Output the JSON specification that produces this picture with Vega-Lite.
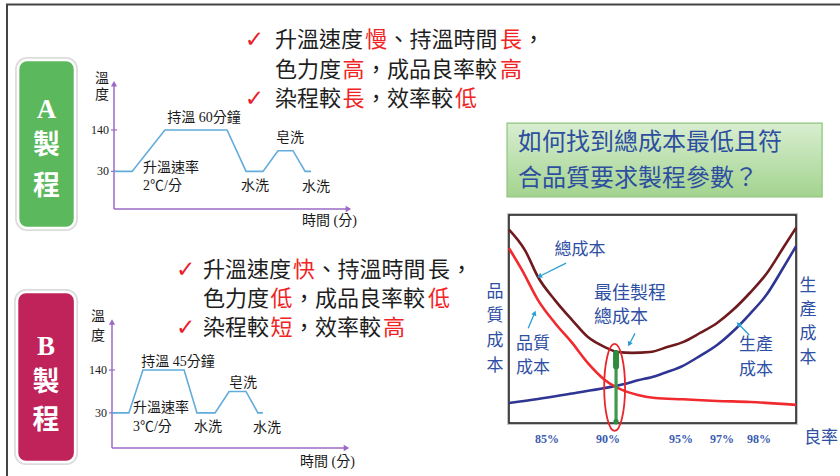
{
  "$schema": "https://vega.github.io/schema/vega-lite/v6.json",
  "width": 840,
  "height": 476,
  "padding": 0,
  "autosize": "none",
  "background": "white",
  "config": {"view": {"stroke": null}, "legend": {"disable": true}},
  "resolve": {"scale": {"x": "independent", "y": "independent", "color": "independent"}},
  "layer": [
    {
      "data": {"values": [{"sx": 0, "sx2": 1, "sy": 0, "sy2": 1}]},
      "mark": {"type": "rect", "fill": "transparent", "stroke": "#444444", "strokeWidth": 2},
      "encoding": {
        "x": {"field": "sx", "type": "quantitative", "axis": null, "scale": {"domain": [0, 1], "range": [7, 870], "nice": false, "zero": false}},
        "x2": {"field": "sx2"},
        "y": {"field": "sy", "type": "quantitative", "axis": null, "scale": {"domain": [0, 1], "range": [4.5, 500], "nice": false, "zero": false}},
        "y2": {"field": "sy2"}
      }
    },
    {
      "encoding": {
        "x": {"field": "time", "type": "quantitative", "axis": null, "scale": {"domain": [0, 100], "range": [114, 352], "nice": false, "zero": false}},
        "y": {"field": "temp", "type": "quantitative", "axis": null, "scale": {"domain": [-70, 140], "range": [209, 130], "nice": false, "zero": false}}
      },
      "layer": [
        {
          "data": {"values": [{"time": -40.3, "time2": -16.4, "temp": 326, "temp2": -120.5}]},
          "mark": {"type": "rect", "fill": "#5cb85c", "stroke": "#dcdcdc", "strokeWidth": 6, "cornerRadius": 9},
          "encoding": {"x2": {"field": "time2"}, "y2": {"field": "temp2"}}
        },
        {
          "data": {"values": [{"time": -40.3, "time2": -16.4, "temp": 326, "temp2": -120.5}]},
          "mark": {"type": "rect", "fill": "#5cb85c", "stroke": "#ffffff", "strokeWidth": 2.5, "cornerRadius": 9},
          "encoding": {"x2": {"field": "time2"}, "y2": {"field": "temp2"}}
        },
        {
          "data": {"values": [{"label": "A", "time": -28.4, "temp": 193}, {"label": "製", "time": -28.4, "temp": 97.5}, {"label": "程", "time": -28.4, "temp": -11.5}]},
          "mark": {"type": "text", "font": "Liberation Serif, Noto Sans CJK TC", "fontSize": 27, "fontWeight": "bold", "color": "#ffffff", "align": "center", "baseline": "middle"},
          "encoding": {"text": {"field": "label"}}
        },
        {
          "data": {"values": [{"time": 0, "temp": -70, "time2": 0, "temp2": 264}, {"time": 0, "temp": -70, "time2": 98.5, "temp2": -70}]},
          "mark": {"type": "rule", "color": "#9c6ac6", "strokeWidth": 1.5},
          "encoding": {"x2": {"field": "time2"}, "y2": {"field": "temp2"}}
        },
        {
          "data": {"values": [{"time": 0, "temp": 263}]},
          "mark": {"type": "point", "shape": "triangle-up", "filled": true, "size": 40, "color": "#9c6ac6", "opacity": 1},
          "encoding": {}
        },
        {
          "data": {"values": [{"time": 98.5, "temp": -70}]},
          "mark": {"type": "point", "shape": "triangle-right", "filled": true, "size": 40, "color": "#9c6ac6", "opacity": 1},
          "encoding": {}
        },
        {
          "data": {"values": [{"time": 0, "temp": 30, "label": "30"}, {"time": 0, "temp": 140, "label": "140"}]},
          "mark": {"type": "tick", "orient": "horizontal", "size": 6, "thickness": 1.2, "color": "#9c6ac6", "opacity": 1},
          "encoding": {}
        },
        {
          "data": {"values": [{"time": 0, "temp": 30, "label": "30"}, {"time": 0, "temp": 140, "label": "140"}]},
          "mark": {"type": "text", "font": "Liberation Serif", "fontSize": 12, "color": "#1a1a1a", "align": "right", "baseline": "middle", "dx": -5},
          "encoding": {"text": {"field": "label"}}
        },
        {
          "data": {"values": [
            {"process": "A", "time": 0, "temp": 30},
            {"process": "A", "time": 7.6, "temp": 30},
            {"process": "A", "time": 21.4, "temp": 140},
            {"process": "A", "time": 47.5, "temp": 140},
            {"process": "A", "time": 55.5, "temp": 30},
            {"process": "A", "time": 62.6, "temp": 30},
            {"process": "A", "time": 68.9, "temp": 85},
            {"process": "A", "time": 75.2, "temp": 85},
            {"process": "A", "time": 80.3, "temp": 30},
            {"process": "A", "time": 82.8, "temp": 30}
          ]},
          "mark": {"type": "line", "color": "#62acdc", "strokeWidth": 1.6},
          "encoding": {}
        },
        {
          "data": {"values": [
            {"label": "持溫 60分鐘", "time": 37.8, "temp": 172},
            {"label": "皂洗", "time": 73.9, "temp": 119},
            {"label": "水洗", "time": 59.2, "temp": -9},
            {"label": "水洗", "time": 84.9, "temp": -11.5},
            {"label": "溫", "time": -5, "temp": 275},
            {"label": "度", "time": -5, "temp": 233}
          ]},
          "mark": {"type": "text", "font": "Liberation Serif, Noto Sans CJK TC", "fontSize": 14, "color": "#1a1a1a", "align": "center", "baseline": "middle"},
          "encoding": {"text": {"field": "label"}}
        },
        {
          "data": {"values": [
            {"label": "升溫速率", "time": 12.2, "temp": 39},
            {"label": "2℃/分", "time": 12.2, "temp": -9},
            {"label": "時間 (分)", "time": 79, "temp": -102}
          ]},
          "mark": {"type": "text", "font": "Liberation Serif, Noto Sans CJK TC", "fontSize": 14, "color": "#1a1a1a", "align": "left", "baseline": "middle"},
          "encoding": {"text": {"field": "label"}}
        }
      ]
    },
    {
      "encoding": {
        "x": {"field": "time", "type": "quantitative", "axis": null, "scale": {"domain": [0, 100], "range": [112, 350], "nice": false, "zero": false}},
        "y": {"field": "temp", "type": "quantitative", "axis": null, "scale": {"domain": [-60, 140], "range": [448, 370], "nice": false, "zero": false}}
      },
      "layer": [
        {
          "data": {"values": [{"time": -39.9, "time2": -15.5, "temp": 340, "temp2": -96}]},
          "mark": {"type": "rect", "fill": "#c0225a", "stroke": "#dcdcdc", "strokeWidth": 6, "cornerRadius": 9},
          "encoding": {"x2": {"field": "time2"}, "y2": {"field": "temp2"}}
        },
        {
          "data": {"values": [{"time": -39.9, "time2": -15.5, "temp": 340, "temp2": -96}]},
          "mark": {"type": "rect", "fill": "#c0225a", "stroke": "#ffffff", "strokeWidth": 2.5, "cornerRadius": 9},
          "encoding": {"x2": {"field": "time2"}, "y2": {"field": "temp2"}}
        },
        {
          "data": {"values": [{"label": "B", "time": -27.7, "temp": 199}, {"label": "製", "time": -27.7, "temp": 106.7}, {"label": "程", "time": -27.7, "temp": 9.2}]},
          "mark": {"type": "text", "font": "Liberation Serif, Noto Sans CJK TC", "fontSize": 27, "fontWeight": "bold", "color": "#ffffff", "align": "center", "baseline": "middle"},
          "encoding": {"text": {"field": "label"}}
        },
        {
          "data": {"values": [{"time": 0, "temp": -60, "time2": 0, "temp2": 264}, {"time": 0, "temp": -60, "time2": 98.5, "temp2": -60}]},
          "mark": {"type": "rule", "color": "#9c6ac6", "strokeWidth": 1.5},
          "encoding": {"x2": {"field": "time2"}, "y2": {"field": "temp2"}}
        },
        {
          "data": {"values": [{"time": 0, "temp": 263}]},
          "mark": {"type": "point", "shape": "triangle-up", "filled": true, "size": 40, "color": "#9c6ac6", "opacity": 1},
          "encoding": {}
        },
        {
          "data": {"values": [{"time": 98.5, "temp": -60}]},
          "mark": {"type": "point", "shape": "triangle-right", "filled": true, "size": 40, "color": "#9c6ac6", "opacity": 1},
          "encoding": {}
        },
        {
          "data": {"values": [{"time": 0, "temp": 30, "label": "30"}, {"time": 0, "temp": 140, "label": "140"}]},
          "mark": {"type": "tick", "orient": "horizontal", "size": 6, "thickness": 1.2, "color": "#9c6ac6", "opacity": 1},
          "encoding": {}
        },
        {
          "data": {"values": [{"time": 0, "temp": 30, "label": "30"}, {"time": 0, "temp": 140, "label": "140"}]},
          "mark": {"type": "text", "font": "Liberation Serif", "fontSize": 12, "color": "#1a1a1a", "align": "right", "baseline": "middle", "dx": -5},
          "encoding": {"text": {"field": "label"}}
        },
        {
          "data": {"values": [
            {"process": "B", "time": 0, "temp": 30},
            {"process": "B", "time": 7.1, "temp": 30},
            {"process": "B", "time": 13.0, "temp": 140},
            {"process": "B", "time": 30.3, "temp": 140},
            {"process": "B", "time": 35.7, "temp": 30},
            {"process": "B", "time": 43.3, "temp": 30},
            {"process": "B", "time": 49.2, "temp": 85},
            {"process": "B", "time": 56.3, "temp": 85},
            {"process": "B", "time": 61.3, "temp": 30},
            {"process": "B", "time": 63.4, "temp": 30}
          ]},
          "mark": {"type": "line", "color": "#62acdc", "strokeWidth": 1.6},
          "encoding": {}
        },
        {
          "data": {"values": [
            {"label": "持溫 45分鐘", "time": 27.7, "temp": 160.5},
            {"label": "皂洗", "time": 55, "temp": 106.7},
            {"label": "水洗", "time": 40.3, "temp": -6.2},
            {"label": "水洗", "time": 65.1, "temp": -8.7},
            {"label": "溫", "time": -5.9, "temp": 276},
            {"label": "度", "time": -5.9, "temp": 227}
          ]},
          "mark": {"type": "text", "font": "Liberation Serif, Noto Sans CJK TC", "fontSize": 14, "color": "#1a1a1a", "align": "center", "baseline": "middle"},
          "encoding": {"text": {"field": "label"}}
        },
        {
          "data": {"values": [
            {"label": "升溫速率", "time": 8.8, "temp": 42.6},
            {"label": "3℃/分", "time": 8.8, "temp": -6.2},
            {"label": "時間 (分)", "time": 79, "temp": -96}
          ]},
          "mark": {"type": "text", "font": "Liberation Serif, Noto Sans CJK TC", "fontSize": 14, "color": "#1a1a1a", "align": "left", "baseline": "middle"},
          "encoding": {"text": {"field": "label"}}
        }
      ]
    },
    {
      "encoding": {
        "x": {"field": "col", "type": "quantitative", "axis": null, "scale": {"domain": [0, 10], "range": [275, 500], "nice": false, "zero": false}},
        "y": {"field": "line", "type": "quantitative", "axis": null, "scale": {"domain": [1, 3], "range": [40, 99], "nice": false, "zero": false}}
      },
      "layer": [
        {
          "data": {"values": [{"col": -1.35, "line": 1, "label": "✓"}, {"col": -1.35, "line": 3, "label": "✓"}]},
          "mark": {"type": "text", "font": "DejaVu Sans", "fontSize": 23, "color": "#e8202a", "align": "left", "baseline": "middle"},
          "encoding": {"text": {"field": "label"}}
        },
        {
          "data": {"values": [
            {"line": 1, "col": 0, "label": "升溫速度", "tone": "normal"},
            {"line": 1, "col": 4, "label": "慢", "tone": "emphasis"},
            {"line": 1, "col": 5, "label": "、持溫時間", "tone": "normal"},
            {"line": 1, "col": 10, "label": "長", "tone": "emphasis"},
            {"line": 1, "col": 11, "label": "，", "tone": "normal"},
            {"line": 2, "col": 0, "label": "色力度", "tone": "normal"},
            {"line": 2, "col": 3, "label": "高", "tone": "emphasis"},
            {"line": 2, "col": 4, "label": "，成品良率較", "tone": "normal"},
            {"line": 2, "col": 10, "label": "高", "tone": "emphasis"},
            {"line": 3, "col": 0, "label": "染程較", "tone": "normal"},
            {"line": 3, "col": 3, "label": "長", "tone": "emphasis"},
            {"line": 3, "col": 4, "label": "，效率較", "tone": "normal"},
            {"line": 3, "col": 8, "label": "低", "tone": "emphasis"}
          ]},
          "mark": {"type": "text", "font": "Noto Sans CJK TC", "fontSize": 22, "align": "left", "baseline": "middle"},
          "encoding": {
            "text": {"field": "label"},
            "color": {"field": "tone", "type": "nominal", "legend": null, "scale": {"domain": ["normal", "emphasis"], "range": ["#1e1e1e", "#f02424"]}}
          }
        }
      ]
    },
    {
      "encoding": {
        "x": {"field": "col", "type": "quantitative", "axis": null, "scale": {"domain": [0, 10], "range": [203, 428], "nice": false, "zero": false}},
        "y": {"field": "line", "type": "quantitative", "axis": null, "scale": {"domain": [1, 3], "range": [270, 328], "nice": false, "zero": false}}
      },
      "layer": [
        {
          "data": {"values": [{"col": -1.2, "line": 1, "label": "✓"}, {"col": -1.2, "line": 3, "label": "✓"}]},
          "mark": {"type": "text", "font": "DejaVu Sans", "fontSize": 23, "color": "#e8202a", "align": "left", "baseline": "middle"},
          "encoding": {"text": {"field": "label"}}
        },
        {
          "data": {"values": [
            {"line": 1, "col": 0, "label": "升溫速度", "tone": "normal"},
            {"line": 1, "col": 4, "label": "快", "tone": "emphasis"},
            {"line": 1, "col": 5, "label": "、持溫時間", "tone": "normal"},
            {"line": 1, "col": 10, "label": "長", "tone": "normal"},
            {"line": 1, "col": 11, "label": "，", "tone": "normal"},
            {"line": 2, "col": 0, "label": "色力度", "tone": "normal"},
            {"line": 2, "col": 3, "label": "低", "tone": "emphasis"},
            {"line": 2, "col": 4, "label": "，成品良率較", "tone": "normal"},
            {"line": 2, "col": 10, "label": "低", "tone": "emphasis"},
            {"line": 3, "col": 0, "label": "染程較", "tone": "normal"},
            {"line": 3, "col": 3, "label": "短", "tone": "emphasis"},
            {"line": 3, "col": 4, "label": "，效率較", "tone": "normal"},
            {"line": 3, "col": 8, "label": "高", "tone": "emphasis"}
          ]},
          "mark": {"type": "text", "font": "Noto Sans CJK TC", "fontSize": 22, "align": "left", "baseline": "middle"},
          "encoding": {
            "text": {"field": "label"},
            "color": {"field": "tone", "type": "nominal", "legend": null, "scale": {"domain": ["normal", "emphasis"], "range": ["#1e1e1e", "#f02424"]}}
          }
        }
      ]
    },
    {
      "encoding": {
        "x": {"field": "col", "type": "quantitative", "axis": null, "scale": {"domain": [0, 11], "range": [518, 811.7], "nice": false, "zero": false}},
        "y": {"field": "line", "type": "quantitative", "axis": null, "scale": {"domain": [1, 2], "range": [143.2, 178.7], "nice": false, "zero": false}}
      },
      "layer": [
        {
          "data": {"values": [{"col": -0.41, "col2": 11.39, "line": 0.434, "line2": 2.516}]},
          "mark": {"type": "rect", "stroke": "#8cc47c", "strokeWidth": 1.2, "fill": {"gradient": "linear", "x1": 0, "y1": 0, "x2": 0, "y2": 1, "stops": [{"offset": 0, "color": "#d8eed0"}, {"offset": 1, "color": "#a3d38f"}]}},
          "encoding": {"x2": {"field": "col2"}, "y2": {"field": "line2"}}
        },
        {
          "data": {"values": [{"line": 1, "col": 0, "label": "如何找到總成本最低且符"}, {"line": 2, "col": 0, "label": "合品質要求製程參數？"}]},
          "mark": {"type": "text", "font": "Noto Sans CJK TC", "fontSize": 24, "color": "#2e4fa0", "align": "left", "baseline": "middle"},
          "encoding": {"text": {"field": "label"}}
        }
      ]
    },
    {
      "encoding": {
        "x": {"field": "pos", "type": "quantitative", "axis": null, "scale": {"domain": [0, 100], "range": [509, 796], "nice": false, "zero": false}},
        "y": {"field": "cost", "type": "quantitative", "axis": null, "scale": {"domain": [0, 100], "range": [423, 215], "nice": false, "zero": false}}
      },
      "layer": [
        {
          "data": {"values": [{"pos": 0, "pos2": 100, "cost": 0, "cost2": 100}]},
          "mark": {"type": "rect", "fill": "#ffffff", "stroke": "#c4c4c4", "strokeWidth": 4},
          "encoding": {"x2": {"field": "pos2"}, "y2": {"field": "cost2"}}
        },
        {
          "data": {"values": [{"pos": 0, "pos2": 100, "cost": 0, "cost2": 100}]},
          "mark": {"type": "rect", "fill": "#ffffff", "stroke": "#1a1a1a", "strokeWidth": 1.5},
          "encoding": {"x2": {"field": "pos2"}, "y2": {"field": "cost2"}}
        },
        {
          "data": {"values": [
            {"series": "生產成本", "pos": 0, "cost": 9.6},
            {"series": "生產成本", "pos": 10.1, "cost": 11.5},
            {"series": "生產成本", "pos": 22, "cost": 14.2},
            {"series": "生產成本", "pos": 33.4, "cost": 16.8},
            {"series": "生產成本", "pos": 39.4, "cost": 18.5},
            {"series": "生產成本", "pos": 44.9, "cost": 20.5},
            {"series": "生產成本", "pos": 50.9, "cost": 22.5},
            {"series": "生產成本", "pos": 55.1, "cost": 24.5},
            {"series": "生產成本", "pos": 60.6, "cost": 27.5},
            {"series": "生產成本", "pos": 66.6, "cost": 32.3},
            {"series": "生產成本", "pos": 72.5, "cost": 37.5},
            {"series": "生產成本", "pos": 78, "cost": 44},
            {"series": "生產成本", "pos": 83.9, "cost": 52.4},
            {"series": "生產成本", "pos": 89.9, "cost": 62},
            {"series": "生產成本", "pos": 95.5, "cost": 74.5},
            {"series": "生產成本", "pos": 100, "cost": 85},
            {"series": "品質成本", "pos": 0, "cost": 84},
            {"series": "品質成本", "pos": 4.5, "cost": 73.6},
            {"series": "品質成本", "pos": 10.1, "cost": 59.1},
            {"series": "品質成本", "pos": 16, "cost": 48.1},
            {"series": "品質成本", "pos": 22, "cost": 38.5},
            {"series": "品質成本", "pos": 27.5, "cost": 28.8},
            {"series": "品質成本", "pos": 33.4, "cost": 20.7},
            {"series": "品質成本", "pos": 39.4, "cost": 15.9},
            {"series": "品質成本", "pos": 44.9, "cost": 13.5},
            {"series": "品質成本", "pos": 50.9, "cost": 12},
            {"series": "品質成本", "pos": 60.6, "cost": 11.4},
            {"series": "品質成本", "pos": 72.5, "cost": 10.6},
            {"series": "品質成本", "pos": 84, "cost": 10.1},
            {"series": "品質成本", "pos": 100, "cost": 8.7},
            {"series": "總成本", "pos": 0, "cost": 93},
            {"series": "總成本", "pos": 5.6, "cost": 83},
            {"series": "總成本", "pos": 10.1, "cost": 70.2},
            {"series": "總成本", "pos": 16, "cost": 59.1},
            {"series": "總成本", "pos": 22, "cost": 49.5},
            {"series": "總成本", "pos": 27.5, "cost": 41.3},
            {"series": "總成本", "pos": 33.4, "cost": 36.5},
            {"series": "總成本", "pos": 37.9, "cost": 34.1},
            {"series": "總成本", "pos": 42.9, "cost": 33.7},
            {"series": "總成本", "pos": 49.1, "cost": 34.1},
            {"series": "總成本", "pos": 55.1, "cost": 36.5},
            {"series": "總成本", "pos": 60.6, "cost": 38.9},
            {"series": "總成本", "pos": 66.6, "cost": 43.3},
            {"series": "總成本", "pos": 72.5, "cost": 48.1},
            {"series": "總成本", "pos": 78, "cost": 54.3},
            {"series": "總成本", "pos": 83.9, "cost": 62.5},
            {"series": "總成本", "pos": 89.9, "cost": 72.1},
            {"series": "總成本", "pos": 95.5, "cost": 84.1},
            {"series": "總成本", "pos": 100, "cost": 93.8}
          ]},
          "mark": {"type": "line", "strokeWidth": 2.6, "interpolate": "monotone"},
          "encoding": {
            "color": {"field": "series", "type": "nominal", "legend": null, "scale": {"domain": ["總成本", "品質成本", "生產成本"], "range": ["#6e1a1e", "#f02a2e", "#2e3592"]}}
          }
        },
        {
          "data": {"values": [{"pos": 37.3, "cost": 0, "cost2": 34.1}]},
          "mark": {"type": "rule", "color": "#3f9a4c", "strokeWidth": 3.2},
          "encoding": {"y2": {"field": "cost2"}}
        },
        {
          "data": {"values": [{"pos": 37.3, "cost": 27.2, "cost2": 33.6}]},
          "mark": {"type": "rule", "color": "#2f8a3e", "strokeWidth": 6, "strokeCap": "round"},
          "encoding": {"y2": {"field": "cost2"}}
        },
        {
          "data": {"values": [{"pos": 37.3, "cost": 0.6}]},
          "mark": {"type": "point", "shape": "circle", "filled": true, "size": 28, "color": "#2f8a3e", "opacity": 1},
          "encoding": {}
        },
        {
          "data": {"values": [{"pos": 36.8, "cost": 17.1}]},
          "mark": {"type": "point", "shape": "M0,-1A0.24,1 0 1,1 0,1A0.24,1 0 1,1 0,-1Z", "filled": false, "size": 7569, "strokeWidth": 1.8, "color": "#e8262c", "opacity": 1},
          "encoding": {}
        },
        {
          "data": {"values": [
            {"target": "總成本", "pos": 19.9, "cost": 76.9, "pos2": 11.2, "cost2": 70.9},
            {"target": "品質成本", "pos": 6.7, "cost": 45.5, "pos2": 8.7, "cost2": 52.2},
            {"target": "最佳製程總成本", "pos": 43.9, "cost": 43.1, "pos2": 42.2, "cost2": 38.6},
            {"target": "生產成本", "pos": 83.7, "cost": 42.3, "pos2": 80.3, "cost2": 47.1}
          ]},
          "mark": {"type": "rule", "color": "#2b9fd4", "strokeWidth": 1.3},
          "encoding": {"x2": {"field": "pos2"}, "y2": {"field": "cost2"}}
        },
        {
          "data": {"values": [
            {"target": "總成本", "pos": 10.6, "cost": 70.5, "angle": 243},
            {"target": "品質成本", "pos": 8.95, "cost": 52.9, "angle": 22},
            {"target": "最佳製程總成本", "pos": 41.9, "cost": 37.9, "angle": 207},
            {"target": "生產成本", "pos": 79.9, "cost": 47.6, "angle": 316}
          ]},
          "mark": {"type": "point", "shape": "triangle-up", "filled": true, "size": 30, "color": "#2b9fd4", "opacity": 1},
          "encoding": {"angle": {"field": "angle", "type": "quantitative", "scale": null}}
        },
        {
          "data": {"values": [
            {"label": "總成本", "pos": 24.7, "cost": 83.2},
            {"label": "品質", "pos": 8.4, "cost": 38},
            {"label": "成本", "pos": 8.4, "cost": 26.4},
            {"label": "生產", "pos": 86.1, "cost": 37.7},
            {"label": "成本", "pos": 86.1, "cost": 25.5},
            {"label": "品", "pos": -4.9, "cost": 63},
            {"label": "質", "pos": -4.9, "cost": 51.4},
            {"label": "成", "pos": -4.9, "cost": 39.4},
            {"label": "本", "pos": -4.9, "cost": 27.4},
            {"label": "生", "pos": 104.2, "cost": 65.9},
            {"label": "產", "pos": 104.2, "cost": 54.3},
            {"label": "成", "pos": 104.2, "cost": 42.8},
            {"label": "本", "pos": 104.2, "cost": 31.3},
            {"label": "良率", "pos": 108.7, "cost": -7.2}
          ]},
          "mark": {"type": "text", "font": "Noto Sans CJK TC", "fontSize": 17, "color": "#2e4fa3", "align": "center", "baseline": "middle"},
          "encoding": {"text": {"field": "label"}}
        },
        {
          "data": {"values": [
            {"label": "最佳製程", "pos": 29.6, "cost": 62},
            {"label": "總成本", "pos": 29.6, "cost": 50.7}
          ]},
          "mark": {"type": "text", "font": "Noto Sans CJK TC", "fontSize": 18, "color": "#2e4fa3", "align": "left", "baseline": "middle"},
          "encoding": {"text": {"field": "label"}}
        },
        {
          "data": {"values": [
            {"yield": "85%", "pos": 13.2, "cost": -7.7},
            {"yield": "90%", "pos": 34.5, "cost": -7.7},
            {"yield": "95%", "pos": 59.9, "cost": -7.7},
            {"yield": "97%", "pos": 74.2, "cost": -7.7},
            {"yield": "98%", "pos": 87.1, "cost": -7.7}
          ]},
          "mark": {"type": "text", "font": "Liberation Serif", "fontSize": 12, "fontWeight": "bold", "color": "#3a5bb0", "align": "center", "baseline": "middle"},
          "encoding": {"text": {"field": "yield"}}
        }
      ]
    }
  ]
}
